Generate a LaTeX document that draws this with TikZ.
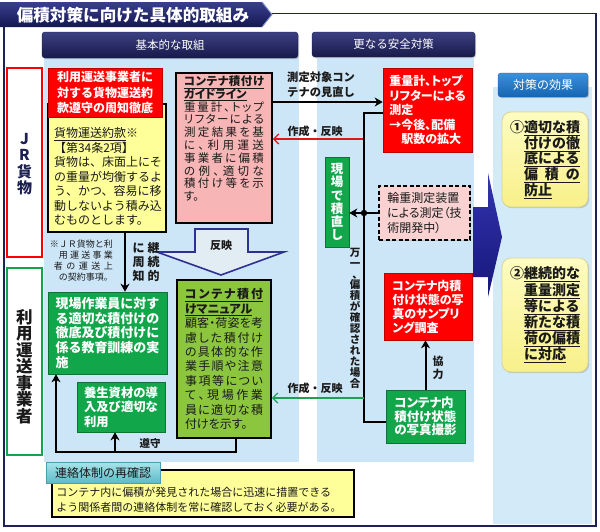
\documentclass[tikz,border=0pt]{standalone}
\usepackage{fontspec}
\setmainfont{Noto Sans CJK JP}
\newfontfamily\jpp{Noto Sans CJK JP}[RawFeature=+palt]
\usetikzlibrary{shadows,arrows.meta}
\lineskiplimit=-100pt
\newcommand{\fsz}[2]{\fontsize{#1}{#2}\selectfont}
\makeatletter
\def\jjloop#1#2\@nil{#1\ifx\relax#2\relax\else\hfil\jjloop#2\@nil\fi}
\newcommand{\jj}[2]{\hbox to #1{\jjloop#2\@nil}}
\makeatother
\definecolor{navyD}{HTML}{181A4A}
\definecolor{navyL}{HTML}{3C4082}
\definecolor{frameC}{HTML}{1E2156}
\definecolor{ttlL}{HTML}{3A3F8C}
\definecolor{ttlD}{HTML}{141752}
\definecolor{ttlE}{HTML}{7F8FD0}
\definecolor{bgblue}{HTML}{CCE6F8}
\definecolor{bgblue2}{HTML}{D3EAF8}
\definecolor{cred}{HTML}{FF0000}
\definecolor{cgreen}{HTML}{12A64B}
\definecolor{lime}{HTML}{8CC63F}
\definecolor{pinkb}{HTML}{F7B5B5}
\definecolor{pinkd}{HTML}{FAD2D2}
\definecolor{yel}{HTML}{FFFF99}
\definecolor{yelL}{HTML}{FEFCC0}
\definecolor{yelD}{HTML}{F8F08A}
\definecolor{yelB}{HTML}{D9D39A}
\definecolor{effL}{HTML}{3D90DA}
\definecolor{effD}{HTML}{1565B2}
\definecolor{arrowblue}{HTML}{2E3192}
\definecolor{refill}{HTML}{E2ECF3}
\definecolor{bigL}{HTML}{3434B0}
\definecolor{bigD}{HTML}{16167A}
\definecolor{redline}{HTML}{E0151C}
\definecolor{greenline}{HTML}{1FA055}
\definecolor{tealL}{HTML}{A9E4EA}
\definecolor{tealD}{HTML}{5BBBC8}
\definecolor{tealB}{HTML}{4A9FAE}
\definecolor{jrtext}{HTML}{1C2050}
\definecolor{dark}{HTML}{1A1A1A}
\begin{document}
\begin{tikzpicture}[x=1pt,y=-1pt,
  shd/.style={drop shadow={shadow xshift=1.2pt,shadow yshift=-1.2pt,opacity=0.35}},
  hdr/.style={rounded corners=3pt,top color=navyL,bottom color=navyD,draw=navyD,text=white,inner sep=0pt,shd},
  effhdr/.style={rounded corners=3pt,top color=effL,bottom color=effD,draw=effD,text=white,inner sep=0pt,shd},
  redbox/.style={fill=cred,draw=cred!75!black,line width=0.6pt,text=white,inner sep=0pt,align=left,shd},
  grnbox/.style={fill=cgreen,draw=cgreen!70!black,line width=0.6pt,text=white,inner sep=0pt,align=left,shd},
  effbox/.style={rounded corners=9pt,top color=yelL,bottom color=yelD,draw=yelB,line width=0.8pt,inner sep=0pt,align=left,text=dark,shd},
  blk/.style={line width=2pt,draw=black},
  arr/.style={blk,-{Stealth[length=8pt,width=9pt,inset=2.5pt]}},
  rarr/.style={line width=1.3pt,draw=redline,-{Straight Barb[length=5pt,width=10pt]}},
  garr/.style={line width=1.3pt,draw=greenline,-{Straight Barb[length=5pt,width=10pt]}},
  lbl/.style={inner sep=0pt,text=dark}]
\useasboundingbox (0,0) rectangle (600,531);
\fill[white] (0,0) rectangle (600,531);
% backgrounds
\fill[bgblue] (44,58) rectangle (299,462);
\fill[bgblue] (317,58) rectangle (474,462);
\fill[bgblue2] (493,87) rectangle (592,524);
% frame and title
\draw[frameC,line width=1.6pt] (272,13.5) -- (596,13.5) -- (596,526) -- (4,526) -- (4,27);
\shade[top color=ttlL,bottom color=ttlD] (0,2) -- (262,2) -- (272,14.5) -- (262,27) -- (0,27) -- cycle;
\draw[ttlE,line width=1pt] (262,2) -- (272,14.5) -- (262,27);
\node[text=white,font={\bfseries\fsz{16.6}{18}}] (ttl) at (133,15) {偏積対策に向けた具体的取組み};
% headers
\node[hdr,minimum width=256pt,minimum height=26pt,font={\fsz{11.5}{13}}] (h1) at (170,45) {基本的な取組};
\node[hdr,minimum width=163pt,minimum height=25pt,font={\fsz{11.5}{13}}] (h2) at (393.5,44.5) {更なる安全対策};
\node[effhdr,minimum width=90pt,minimum height=24pt,font={\fsz{12}{14}}] (eh) at (543,85) {対策の効果};
% side labels
\node[draw=cred,line width=1.6pt,fill=white,minimum width=35pt,minimum height=189pt,inner sep=0pt] (jr) at (24.5,162.5) {};
\node[lbl,text=jrtext,font={\bfseries\fsz{15}{16.5}},align=center] (jrt) at (24.5,164) {J\\R\\貨\\物};
\node[draw=cgreen,line width=1.6pt,fill=white,minimum width=35pt,minimum height=187pt,inner sep=0pt] (ry) at (24.5,361.5) {};
\node[lbl,font={\bfseries\fsz{16.5}{16.5}},align=center] (ryt) at (24.5,366.5) {利\\用\\運\\送\\事\\業\\者};
% yellow contract box and red box
\node[draw=black,line width=1.6pt,fill=yel,minimum width=118pt,minimum height=128pt,inner sep=0pt,shd] (yk) at (107,168) {};
\node[lbl,align=left,font={\fsz{12}{14.5}}] (ykt) at (108,176.5) {\underline{貨物運送約款}※\\【第34条2項】\\貨物は、床面上にそ\\の重量が均衡するよ\\う、かつ、容易に移\\動しないよう積み込\\むものとします。};
\node[redbox,minimum width=114pt,minimum height=49pt,font={\bfseries\fsz{12}{15.5}}] (r1) at (105,92.5) {利用運送事業者に\\対する貨物運送約\\款遵守の周知徹底};
\node[lbl,align=right,anchor=east,font={\fsz{9}{11}}] (nt1) at (113,260.5) {※ＪＲ貨物と利\\\jj{54pt}{用運送事業}\\\jj{59pt}{者の運送上}\\の契約事項。};
% green boxes left
\node[grnbox,minimum width=119pt,minimum height=82pt,font={\bfseries\fsz{13}{14.7}}] (g1) at (107.5,333) {現場作業員に対す\\る適切な積付けの\\徹底及び積付けに\\係る教育訓練の実\\施};
\node[grnbox,minimum width=88pt,minimum height=50pt,font={\bfseries\fsz{12.3}{14.5}}] (g2) at (121,407) {養生資材の導\\入及び適切な\\利用};
% guideline box
\node[draw=black,line width=1.8pt,fill=pinkb,minimum width=96pt,minimum height=150pt,inner sep=0pt,shd] (gl) at (224,148) {};
\node[lbl,align=left,font={\jpp\fsz{11.5}{12.8}}] (glt) at (224,138.5) {\textbf{\underline{\jj{80pt}{コンテナ積付け}}}\\\textbf{\underline{ガイドライン}}\\\jj{80pt}{重量計、トップ}\\\jj{80pt}{リフターによる}\\\jj{80pt}{測定結果を基}\\\jj{80pt}{に、利用運送}\\\jj{80pt}{事業者に偏積}\\\jj{80pt}{の例、適切な}\\\jj{80pt}{積付け等を示}\\す。};
% reflect arrow
\filldraw[fill=refill,draw=arrowblue,line width=1.6pt,line join=miter] (195,229) -- (248,229) -- (248,252) -- (284,252) -- (221,275) -- (157,252) -- (195,252) -- cycle;
\node[lbl,font={\bfseries\fsz{11}{13}}] (refl) at (221,245) {反映};
% manual box
\node[draw=black,line width=1.8pt,fill=lime,minimum width=94pt,minimum height=158pt,inner sep=0pt,align=left,text=dark,shd,font={\jpp\fsz{12}{14.4}}] (mn) at (224,359) {\textbf{\underline{\jj{78pt}{コンテナ積付}}}\\\textbf{\underline{けマニュアル}}\\\jj{78pt}{顧客・荷姿を考}\\\jj{78pt}{慮した積付け}\\\jj{78pt}{の具体的な作}\\\jj{78pt}{業手順や注意}\\\jj{78pt}{事項等につい}\\\jj{78pt}{て、現場作業}\\\jj{78pt}{員に適切な積}\\付けを示す。};
% arrows left column
\coordinate (d1) at (125,0);
\draw[arr] (yk.south -| d1) -- (g1.north -| d1);
\node[lbl,align=center,font={\bfseries\fsz{12}{14}}] (lbl1) at (146,262) {に\hspace{3pt}継\\周\hspace{3pt}続\\知\hspace{3pt}的};
\coordinate (lp) at (0,452);
\coordinate (x236) at (236,0);
\coordinate (x56) at (56,0);
\coordinate (x115) at (115,0);
\draw[arr] (mn.south -| x236) -- (lp -| x236) -- (lp -| x56) -- (g1.south -| x56);
\draw[arr] (lp -| x115) -- (g2.south -| x115);
\node[lbl,font={\bfseries\fsz{10.5}{12}}] (jsh) at (150,443) {遵守};
% right column
\node[redbox,minimum width=89pt,minimum height=84pt,font={\bfseries\jpp\fsz{12}{14.6}}] (r2) at (427.5,110) {重量計、トップ\\リフターによる\\測定\\→今後、配備\\\hspace*{1em}駅数の拡大};
\coordinate (m1) at (0,102);
\draw[arr] (gl.east |- m1) -- (r2.west |- m1);
\node[lbl,align=left,anchor=west,font={\bfseries\fsz{11.3}{15.5}}] (lb2) at (287,84.5) {測定対象コン\\テナの見直し};
\coordinate (v1) at (364,113);
\coordinate (vb) at (364,422);
\coordinate (dt) at (364,213);
\coordinate (c1) at (364,139);
\coordinate (c2) at (364,398);
\draw[rarr] (c1) -- (c1 -| gl.east);
\node[lbl,font={\bfseries\fsz{11}{13}}] (lb3) at (315,131) {作成・反映};
\node[grnbox,minimum width=24pt,minimum height=90pt,align=center,font={\bfseries\fsz{12.5}{13.2}}] (gs) at (337,202) {現\\場\\で\\積\\直\\し};
\node[draw=black,line width=1.8pt,dash pattern=on 4pt off 2.5pt,fill=pinkd,minimum width=91pt,minimum height=54pt,inner sep=0pt,align=left,text=dark,shd,font={\jpp\fsz{12}{15}}] (dsh) at (424.5,213) {輪重測定装置\\による測定（技\\術開発中）};
\node[redbox,minimum width=88pt,minimum height=67pt,font={\bfseries\jpp\fsz{12}{14}}] (sp) at (428,306.5) {コンテナ内積\\付け状態の写\\真のサンプリ\\ング調査};
\node[grnbox,minimum width=79pt,minimum height=53pt,font={\bfseries\jpp\fsz{12.5}{13.7}}] (ph) at (425.5,416.5) {コンテナ内\\積付け状態\\の写真撮影};
\draw[blk] (r2.west |- v1) -- (v1) -- (vb) -- (ph.west |- vb);
\draw[blk] (dsh.west) -- (dt);
\fill (dt) circle (3.2);
\draw[arr] (dt) -- (gs.east |- dt);
\node[lbl,align=center,font={\bfseries\fsz{10.5}{10.9}}] (vl) at (355,318) {万\\一\\\hspace*{5pt}、\\偏\\積\\が\\確\\認\\さ\\れ\\た\\場\\合};
\draw[garr] (c2) -- (c2 -| mn.east);
\node[lbl,font={\bfseries\fsz{11}{13}}] (lb4) at (315,388) {作成・反映};
\draw[arr] (ph.north) -- (ph.north |- sp.south);
\node[lbl,align=center,font={\bfseries\fsz{11}{12.5}}] (kr) at (438,368) {協\\力};
% big arrow
\shade[top color=bigL,bottom color=bigD] (473,207) -- (488,207) -- (488,173) -- (502,237) -- (488,297) -- (488,277) -- (473,277) -- cycle;
% effect boxes
\node[effbox,minimum width=86pt,minimum height=95pt,font={\bfseries\fsz{14}{15.8}}] (e1) at (545,159.5) {①\underline{適切な積}\\\hspace*{14pt}\underline{付けの徹}\\\hspace*{14pt}\underline{底による}\\\hspace*{14pt}\underline{偏\hspace{7pt}積\hspace{7pt}の}\\\hspace*{14pt}\underline{防止}};
\node[effbox,minimum width=86pt,minimum height=114pt,font={\bfseries\fsz{14}{16.2}}] (e2) at (545,315) {②\underline{継続的な}\\\hspace*{14pt}\underline{重量測定}\\\hspace*{14pt}\underline{等による}\\\hspace*{14pt}\underline{新たな積}\\\hspace*{14pt}\underline{荷の偏積}\\\hspace*{14pt}\underline{に対応}};
% bottom note
\node[draw=black,line width=1.6pt,fill=yel,minimum width=302pt,minimum height=47pt,inner sep=0pt,shd] (nt) at (203,493.5) {};
\node[lbl,align=left,font={\fsz{11}{15}}] (ntt) at (199,499.5) {コンテナ内に偏積が発見された場合に迅速に措置できる\\よう関係者間の連絡体制を常に確認しておく必要がある。};
\node[top color=tealL,bottom color=tealD,draw=tealB,line width=0.6pt,minimum width=114pt,minimum height=21pt,inner sep=0pt,text=dark,font={\fsz{12}{14}},shd] (tl) at (103,472.5) {連絡体制の再確認};
\end{tikzpicture}
\end{document}
